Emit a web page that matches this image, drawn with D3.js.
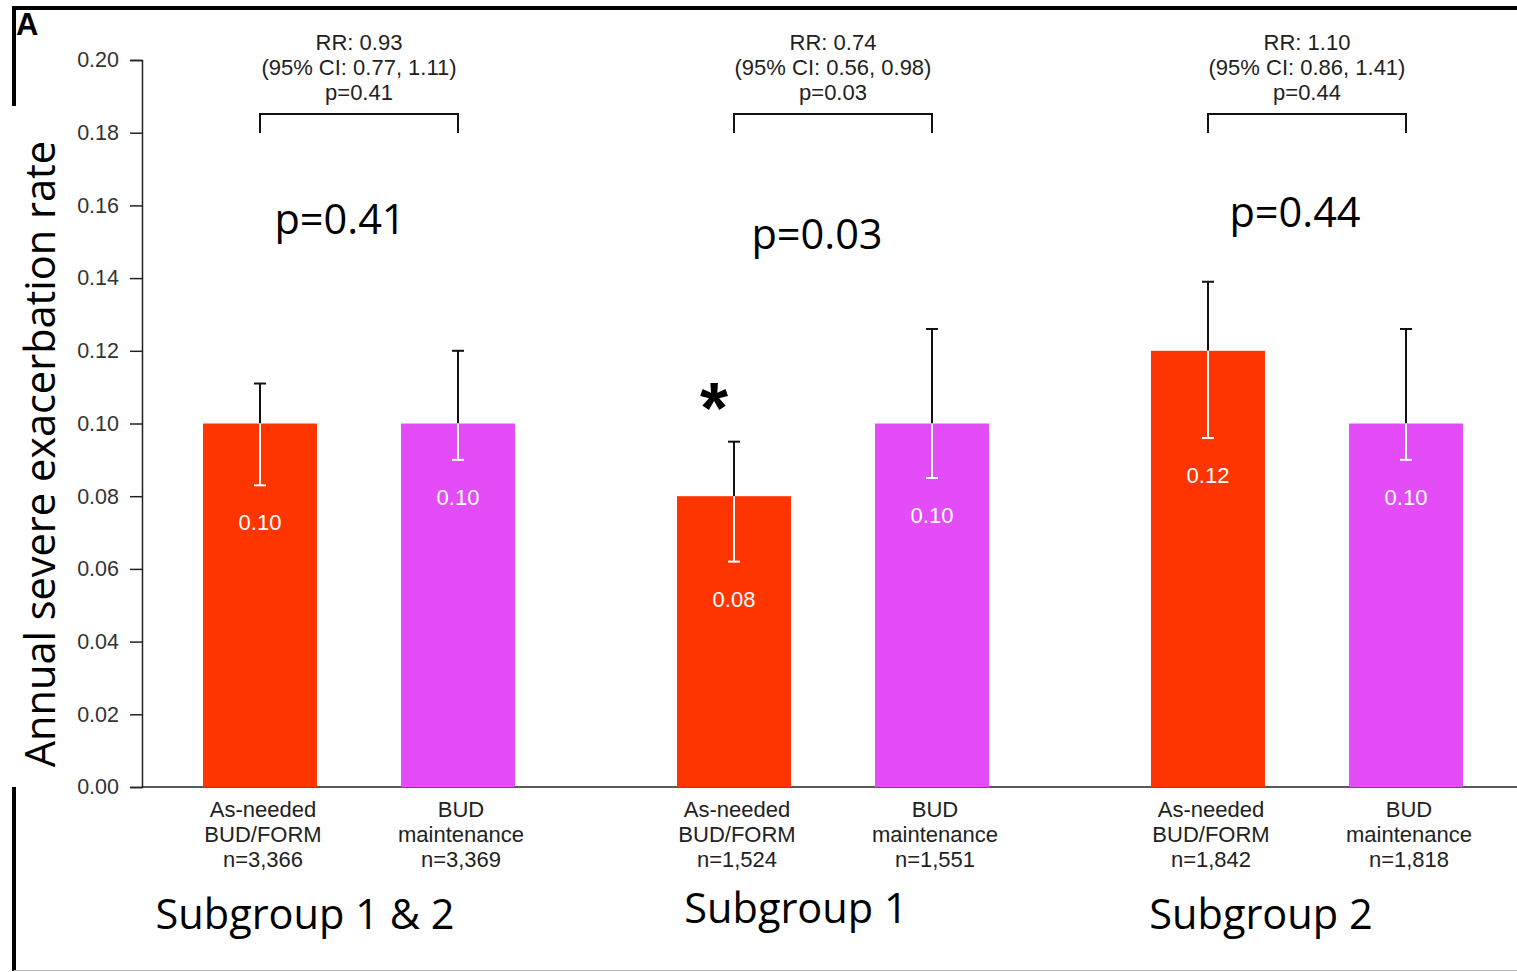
<!DOCTYPE html>
<html>
<head>
<meta charset="utf-8">
<script src="https://cdn.jsdelivr.net/npm/d3@7"></script>
<style>
  body { margin: 0; background: #fff; }
  svg { display: block; }
</style>
</head>
<body>
<div id="main"></div>
<script>
// data
var groups = ['Subgroup 1 & 2', 'Subgroup 1', 'Subgroup 2'];
var arms = ['As-needed BUD/FORM', 'BUD maintenance'];
var rates = [[0.10, 0.10], [0.08, 0.10], [0.12, 0.10]];
var ciLow = [[0.083, 0.090], [0.062, 0.085], [0.096, 0.090]];
var ciHigh = [[0.111, 0.120], [0.095, 0.126], [0.139, 0.126]];
var nLabels = [['n=3,366', 'n=3,369'], ['n=1,524', 'n=1,551'], ['n=1,842', 'n=1,818']];
var armLines = [['As-needed', 'BUD/FORM'], ['BUD', 'maintenance']];
var rrText = ['RR: 0.93', 'RR: 0.74', 'RR: 1.10'];
var ciText = ['(95% CI: 0.77, 1.11)', '(95% CI: 0.56, 0.98)', '(95% CI: 0.86, 1.41)'];
var pText = ['p=0.41', 'p=0.03', 'p=0.44'];
var yTicks = [0, 0.02, 0.04, 0.06, 0.08, 0.10, 0.12, 0.14, 0.16, 0.18, 0.20];
var colors = ['#ff3500', '#e34cf6'];

var W = 1517, H = 972;
var helv = '"Liberation Sans", Arial, sans-serif';
var cal = '"Open Sans", sans-serif';

var svg = d3.select('#main').append('svg')
  .attr('width', W).attr('height', H);

var y = d3.scaleLinear().domain([0, 0.20]).range([787, 60]);
var xg = d3.scaleBand().domain(groups).range([122, 1544]);
var xa = d3.scalePoint().domain(arms).range([-99, 99]);
var barW = 114;

function cx(gi, ai) {
  return xg(groups[gi]) + xg.bandwidth() / 2 + xa(arms[ai]);
}

// frame
svg.append('line').attr('x1', 12).attr('x2', W).attr('y1', 8).attr('y2', 8)
  .attr('stroke', '#000').attr('stroke-width', 4);
svg.append('line').attr('x1', 14).attr('x2', 14).attr('y1', 6).attr('y2', 106)
  .attr('stroke', '#000').attr('stroke-width', 4);
svg.append('line').attr('x1', 14).attr('x2', 14).attr('y1', 787).attr('y2', 971)
  .attr('stroke', '#000').attr('stroke-width', 4);
svg.append('line').attr('x1', 14).attr('x2', W).attr('y1', 970.5).attr('y2', 970.5)
  .attr('stroke', '#bbb').attr('stroke-width', 1);
svg.append('text').attr('x', 16).attr('y', 35).text('A')
  .attr('font-family', helv).attr('font-weight', 'bold').attr('font-size', 31);

// y axis
var yAxis = svg.append('g').attr('transform', 'translate(142,0)')
  .call(d3.axisLeft(y).tickValues(yTicks).tickFormat(d3.format('.2f')).tickSize(12).tickPadding(11));
yAxis.select('.domain').attr('stroke', '#222').attr('stroke-width', 1.5);
yAxis.selectAll('.tick line').attr('stroke', '#222').attr('stroke-width', 1.5);
yAxis.selectAll('.tick text').attr('font-family', helv).attr('font-size', 21.5).attr('fill', '#333');

// x baseline
svg.append('line').attr('x1', 142).attr('x2', W).attr('y1', y(0)).attr('y2', y(0))
  .attr('stroke', '#222').attr('stroke-width', 1.5);

svg.append('text')
  .attr('transform', 'translate(55,' + 454 + ') rotate(-90)')
  .attr('text-anchor', 'middle')
  .attr('font-family', cal).attr('font-size', 41.5)
  .text('Annual severe exacerbation rate');

var bars = [];
groups.forEach(function(g, gi) {
  arms.forEach(function(a, ai) {
    bars.push({gi: gi, ai: ai, v: rates[gi][ai], lo: ciLow[gi][ai], hi: ciHigh[gi][ai]});
  });
});

var bg = svg.append('g');
bg.selectAll('rect').data(bars).enter().append('rect')
  .attr('x', function(d) { return cx(d.gi, d.ai) - barW / 2; })
  .attr('width', barW)
  .attr('y', function(d) { return y(d.v); })
  .attr('height', function(d) { return y(0) - y(d.v); })
  .attr('fill', function(d) { return colors[d.ai]; });

// error bars: black above the bar top, white inside
var eb = svg.append('g');
bars.forEach(function(d) {
  var x = cx(d.gi, d.ai);
  eb.append('line').attr('x1', x).attr('x2', x).attr('y1', y(d.hi)).attr('y2', y(d.v))
    .attr('stroke', '#111').attr('stroke-width', 2);
  eb.append('line').attr('x1', x - 6).attr('x2', x + 6).attr('y1', y(d.hi)).attr('y2', y(d.hi))
    .attr('stroke', '#111').attr('stroke-width', 2);
  eb.append('line').attr('x1', x).attr('x2', x).attr('y1', y(d.v)).attr('y2', y(d.lo))
    .attr('stroke', '#fff').attr('stroke-width', 2);
  eb.append('line').attr('x1', x - 6).attr('x2', x + 6).attr('y1', y(d.lo)).attr('y2', y(d.lo))
    .attr('stroke', '#fff').attr('stroke-width', 2);
  eb.append('text').attr('x', x).attr('y', y(d.lo) + 45)
    .attr('text-anchor', 'middle').attr('fill', '#fff')
    .attr('font-family', helv).attr('font-size', 22).text(d3.format('.2f')(d.v));
});

// x labels
bars.forEach(function(d) {
  var x = cx(d.gi, d.ai) + 3;
  var lines = armLines[d.ai].concat([nLabels[d.gi][d.ai]]);
  lines.forEach(function(t, k) {
    svg.append('text').attr('x', x).attr('y', 817 + k * 25)
      .attr('text-anchor', 'middle').attr('fill', '#222')
      .attr('font-family', helv).attr('font-size', 22).text(t);
  });
});

// brackets, RR annotations, big p values, group names
var groupLabelY = [929, 923, 929];
var bigPY = [234, 249, 227];
var bigPX = [340, 817, 1295];
var groupLabelX = [305, 796, 1261];
groups.forEach(function(g, gi) {
  var x0 = cx(gi, 0), x1 = cx(gi, 1), m = (x0 + x1) / 2;
  svg.append('path')
    .attr('d', 'M' + x0 + ',133V114H' + x1 + 'V133')
    .attr('fill', 'none').attr('stroke', '#111').attr('stroke-width', 2);
  [rrText[gi], ciText[gi], pText[gi]].forEach(function(t, k) {
    svg.append('text').attr('x', m).attr('y', 50 + k * 25)
      .attr('text-anchor', 'middle').attr('fill', '#222')
      .attr('font-family', helv).attr('font-size', 22).text(t);
  });
  svg.append('text').attr('x', bigPX[gi]).attr('y', bigPY[gi])
    .attr('text-anchor', 'middle').attr('font-family', cal).attr('font-size', 41.5)
    .text(pText[gi]);
  svg.append('text').attr('x', groupLabelX[gi]).attr('y', groupLabelY[gi])
    .attr('text-anchor', 'middle').attr('font-family', cal).attr('font-size', 41.5)
    .text(g);
});

svg.append('text').attr('x', 714).attr('y', 433)
  .attr('text-anchor', 'middle').attr('font-family', helv).attr('font-weight', 'bold')
  .attr('font-size', 72).text('*');
</script>
</body>
</html>
